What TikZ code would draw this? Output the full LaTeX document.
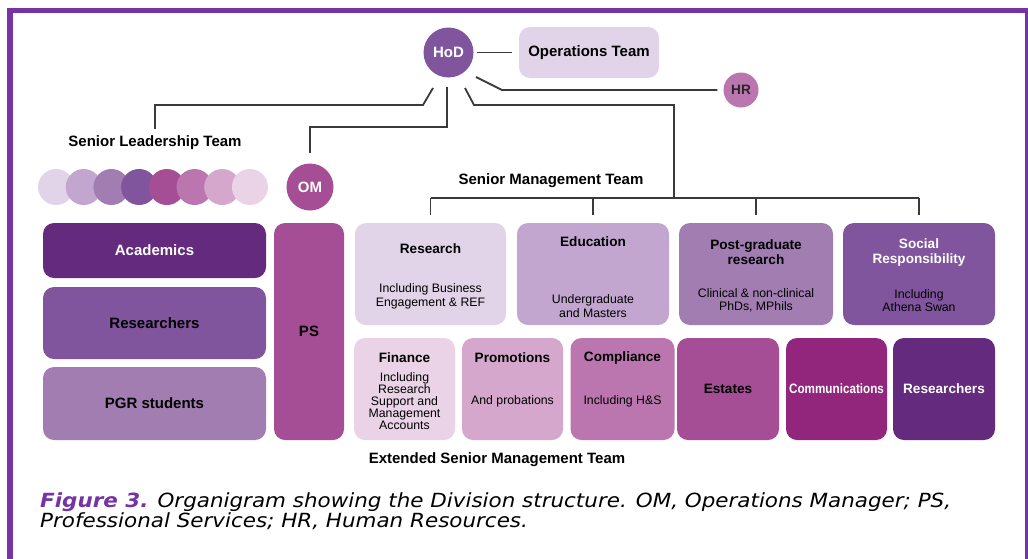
\documentclass[tikz,border=0pt]{standalone}
\usepackage{fontspec}
\setmainfont{Liberation Sans}
\newfontfamily\capfont[FakeStretch=1.1]{DejaVu Sans}
\definecolor{pa}{HTML}{E2D4E8}
\definecolor{pb}{HTML}{C2A6D0}
\definecolor{pc}{HTML}{A27DB2}
\definecolor{pd}{HTML}{80559E}
\definecolor{pe}{HTML}{A64E95}
\definecolor{pf}{HTML}{BC76AF}
\definecolor{pg}{HTML}{D5A7CC}
\definecolor{ph}{HTML}{EAD3E6}
\definecolor{pdark}{HTML}{632A7E}
\definecolor{pcomm}{HTML}{92267C}
\definecolor{framecol}{HTML}{7533A5}
\definecolor{linecol}{HTML}{3A3A3A}
\newcommand\lblfont{\fontsize{15}{17}\selectfont\bfseries}
\newcommand\ttlfont{\fontsize{13.6}{15}\selectfont\bfseries}
\newcommand\subfont{\fontsize{12.3}{13.5}\selectfont}
\begin{document}
\begin{tikzpicture}[x=1pt,y=-1pt,
  circ/.style={circle, draw=none, inner sep=0pt},
  tbox/.style={rectangle, draw=none, rounded corners=11pt, inner sep=0pt},
  link/.style={draw=linecol, line width=1.8pt},
  ttl/.style={font=\ttlfont, align=center, inner sep=0pt},
  sub/.style={font=\subfont, align=center, inner sep=0pt}]
\useasboundingbox (0,0) rectangle (1028,558);
\clip (0,0) rectangle (1028,558);
\fill[white] (0,0) rectangle (1028,558);
% outer frame
\draw[framecol, line width=5.6pt] (9.9,10.3) rectangle (1027.6,600);

% head of division and attached units
\node[circ, fill=pd, minimum size=50pt, text=white, font=\lblfont] (hod) at (448.5,52.5) {HoD};
\node[tbox, fill=pa, minimum width=140pt, minimum height=51pt, font=\lblfont] (ops) at (589,52.5) {Operations Team};
\node[circ, fill=pf, minimum size=35pt, font=\ttlfont, text=black!85] (hr) at (741,90) {HR};

% senior leadership team
\node[font=\lblfont, inner sep=0pt] (slt) at (155,143) {Senior Leadership Team};
\foreach \c [count=\i] in {pa,pb,pc,pd,pe,pf,pg,ph}
  \node[circ, fill=\c, minimum size=36pt] (dot\i) at ({56+27.7*(\i-1)},187) {};
\node[circ, fill=pe, minimum size=47pt, text=white, font=\lblfont] (om) at (310,187) {OM};
\node[font=\lblfont, inner sep=0pt] (smt) at (551,181) {Senior Management Team};

% staff groups
\node[tbox, fill=pdark, minimum width=223pt, minimum height=55pt, text=white, font=\lblfont] (acad) at (154.5,250.5) {Academics};
\node[tbox, fill=pd, minimum width=223pt, minimum height=72pt, font=\lblfont] (resl) at (154.5,323) {Researchers};
\node[tbox, fill=pc, minimum width=223pt, minimum height=73pt, font=\lblfont] (pgr) at (154.5,403.5) {PGR students};
\node[tbox, fill=pe, minimum width=70pt, minimum height=217pt, font=\lblfont] (ps) at (309,331.5) {PS};

% senior management portfolios
\node[tbox, fill=pa, minimum width=151pt, minimum height=102pt] (research) at (430.5,274) {};
\node[tbox, fill=pb, minimum width=152pt, minimum height=102pt] (educ) at (593,274) {};
\node[tbox, fill=pc, minimum width=154pt, minimum height=102pt] (pgres) at (756,274) {};
\node[tbox, fill=pd, minimum width=152pt, minimum height=102pt] (social) at (919,274) {};
\node[ttl] (research-t) at (430.5,249) {Research};
\node[sub] (research-s) at (430.5,296.5) {Including Business\\Engagement \& REF};
\node[ttl] (educ-t) at (593,242) {Education};
\node[sub] (educ-s) at (593,306) {Undergraduate\\and Masters};
\node[ttl] (pgres-t) at (756,252.5) {Post-graduate\\research};
\node[sub] (pgres-s) at (756,300.5) {Clinical \& non-clinical\\PhDs, MPhils};
\node[ttl, text=white] (social-t) at (919,252.5) {Social\\Responsibility};
\node[sub] (social-s) at (919,300.5) {Including\\Athena Swan};

% extended senior management team
\node[tbox, fill=ph, minimum width=101pt, minimum height=102pt] (fin) at (404.5,389) {};
\node[tbox, fill=pg, minimum width=101pt, minimum height=102pt] (prom) at (512.5,389) {};
\node[tbox, fill=pf, minimum width=104pt, minimum height=102pt] (comp) at (622.5,389) {};
\node[tbox, fill=pe, minimum width=102pt, minimum height=102pt, font=\ttlfont] (est) at (728,389) {Estates};
\node[tbox, fill=pcomm, minimum width=101pt, minimum height=102pt, text=white, font=\ttlfont] (comms) at (836.5,389) {\scalebox{0.86}[1]{Communications}};
\node[tbox, fill=pdark, minimum width=102pt, minimum height=102pt, text=white, font=\ttlfont] (resb) at (944,389) {Researchers};
\node[ttl] (fin-t) at (404.5,358) {Finance};
\node[sub, font=\fontsize{12.3}{12.2}\selectfont] (fin-s) at (404.5,401) {Including\\Research\\Support and\\Management\\Accounts};
\node[ttl] (prom-t) at (512.5,358) {Promotions};
\node[sub] (prom-s) at (512.5,401) {And probations};
\node[ttl] (comp-t) at (622.5,358) {Compliance};
\node[sub] (comp-s) at (622.5,401) {Including H\&S};
\node[font=\lblfont, inner sep=0pt] (esmt) at (497,460) {Extended Senior Management Team};

% connectors
\coordinate (hl1) at (433,88);   \coordinate (hl2) at (423,105);
\coordinate (hm1) at (447,87);   \coordinate (hm2) at (447,127);
\coordinate (hr1) at (465,88);   \coordinate (hr2) at (474,105);
\coordinate (ha1) at (476,77);   \coordinate (ha2) at (502,90);
\coordinate (bar) at (674,198);
\draw[link] ([xshift=3pt]hod.east) -- ([xshift=-7pt]ops.west);
\draw[link] (ha1) -- (ha2) -- ([xshift=-6pt]hr.west);
\draw[link] (hl1) -- (hl2) -- (hl2 -| slt) -- ([yshift=7pt]slt.north);
\draw[link] (hm1) -- (hm2) -- (hm2 -| om) -- ([yshift=10pt]om.north);
\draw[link] (hr1) -- (hr2) -- (hr2 -| bar) -- (bar);
\draw[link] (bar -| research) -- (bar -| social);
\foreach \b in {research,educ,pgres,social}
  \draw[link] (bar -| \b) -- ([yshift=8pt]\b.north);

% caption
\node[anchor=north west, align=left, inner sep=0pt, font=\capfont\fontsize{19.5}{18}\selectfont\itshape] (cap) at (40,492)
  {{\bfseries\color{framecol}Figure 3.} Organigram showing the Division structure. OM, Operations Manager; PS,\\Professional Services; HR, Human Resources.};
\end{tikzpicture}
\end{document}
